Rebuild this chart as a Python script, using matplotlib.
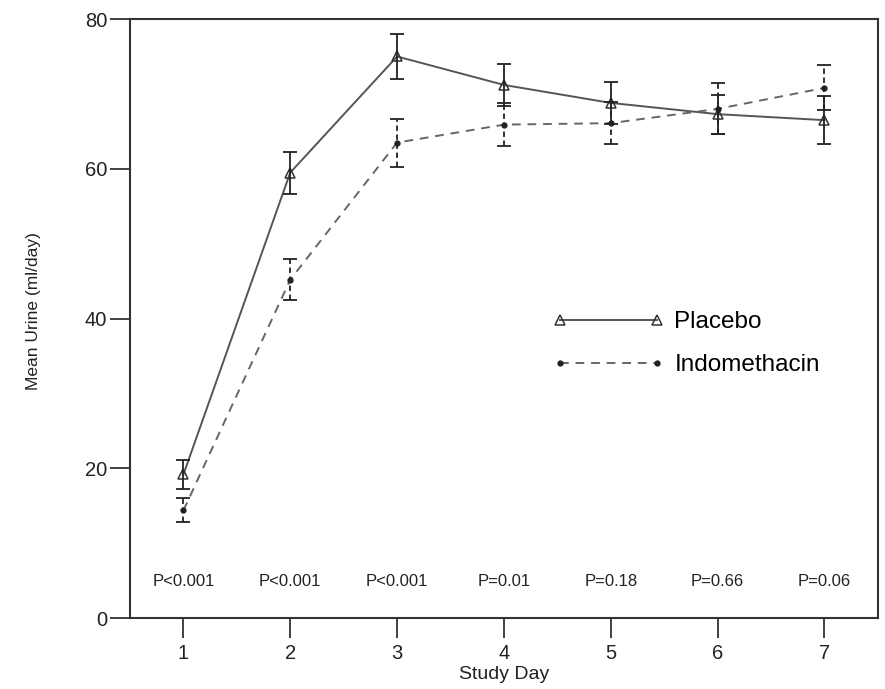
import numpy as np
import matplotlib
matplotlib.use('Agg')
import matplotlib.pyplot as plt
from matplotlib import rcParams

rcParams['font.family'] = ['Liberation Sans', 'DejaVu Sans']
rcParams['axes.unicode_minus'] = False

# 数据
days = [1, 2, 3, 4, 5, 6, 7]
placebo_mean = [19.2, 59.5, 75.0, 71.2, 68.8, 67.3, 66.5]
placebo_err = [1.9, 2.8, 3.0, 2.8, 2.8, 2.6, 3.2]
indo_mean = [14.4, 45.2, 63.5, 65.9, 66.1, 68.0, 70.8]
indo_err = [1.6, 2.7, 3.2, 2.9, 2.8, 3.4, 3.0]
p_labels = ['P<0.001', 'P<0.001', 'P<0.001', 'P=0.01', 'P=0.18', 'P=0.66', 'P=0.06']

fig = plt.figure(figsize=(8.85, 6.89), dpi=100)
ax = fig.add_axes([0.1469, 0.1026, 0.845, 0.8698])

line_col = '#555555'
err_col = '#222222'

# Placebo
ax.plot(days, placebo_mean, '-', color=line_col, lw=1.4, marker='^', ms=7.5,
        markerfacecolor='none', markeredgecolor='#333333', mew=1.1,
        label='Placebo', zorder=3)
ax.errorbar(days, placebo_mean, yerr=placebo_err, fmt='none', ecolor=err_col,
            elinewidth=1.3, capsize=5, capthick=1.3, zorder=4)

# Indomethacin
ax.plot(days, indo_mean, '--', color='#666666', lw=1.4, dashes=(4.5, 3.5),
        marker='o', ms=3.5, markerfacecolor='#222222', markeredgecolor='#222222',
        label='Indomethacin', zorder=3)
eb = ax.errorbar(days, indo_mean, yerr=indo_err, fmt='none', ecolor=err_col,
                 elinewidth=1.3, capsize=5, capthick=1.3, zorder=4)
eb[2][0].set_linestyle((0, (3, 2)))

# P 值
for d, p in zip(days, p_labels):
    ax.text(d, 4.9, p, ha='center', va='center', fontsize=12, color='#222222')

ax.set_xlim(0.5, 7.5)
ax.set_ylim(0, 80)
ax.set_xticks(days)
ax.set_yticks([0, 20, 40, 60, 80])
ax.tick_params(direction='out', length=14.5, width=1.3, color='#333333',
               labelsize=14.5, labelcolor='#222222')
ax.tick_params(axis='x', pad=4)
ax.tick_params(axis='y', pad=2)
for s in ax.spines.values():
    s.set_linewidth(1.5)
    s.set_color('#333333')

ax.set_xlabel('Study Day', fontsize=14, color='#222222', labelpad=2)
ax.set_ylabel('Mean Urine (ml/day)', fontsize=12.5, color='#222222')
ax.yaxis.set_label_coords(-0.119, 0.513)

ax.legend(loc='upper left', bbox_to_anchor=(0.5655, 0.512), frameon=False,
          numpoints=2, fontsize=17.5, handlelength=4.6, handletextpad=0.4,
          labelspacing=0.85, borderpad=0, borderaxespad=0)

plt.savefig('out.png', dpi=100, facecolor='white')
